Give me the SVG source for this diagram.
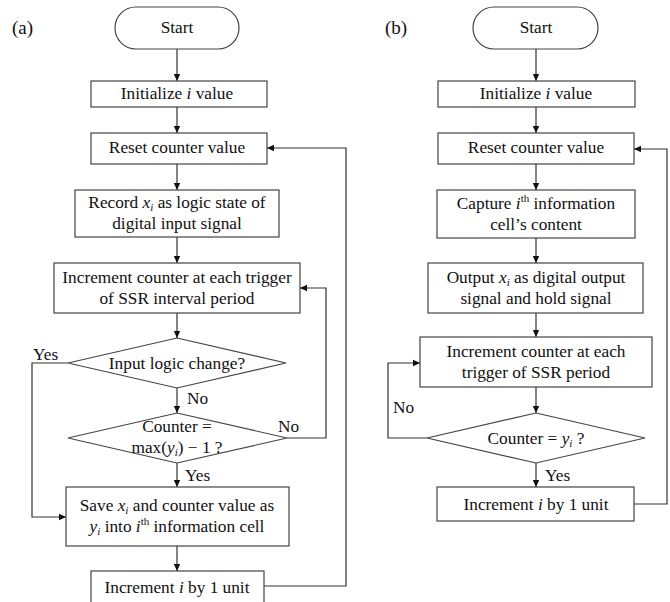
<svg xmlns="http://www.w3.org/2000/svg" width="670" height="602" viewBox="0 0 670 602">
<defs>
<marker id="ah" markerWidth="8" markerHeight="8" refX="7" refY="4" orient="auto" markerUnits="userSpaceOnUse">
<path d="M0,0.8 L7,4 L0,7.2 Z" fill="#111"/>
</marker>
<style>
.b{fill:#fff;stroke:#444;stroke-width:1.2}
text{font-family:'Liberation Serif','Times New Roman',Times,serif;font-size:17.3px;fill:#111}
.t{text-anchor:middle}
.c{fill:none;stroke:#333;stroke-width:1.2}
.ca{fill:none;stroke:#333;stroke-width:1.2;marker-end:url(#ah)}
.i{font-style:italic}
</style>
</defs>
<rect width="670" height="602" fill="#fff"/>
<text x="12" y="34" style="font-size:19px">(a)</text>
<text x="385" y="34" style="font-size:19px">(b)</text>

<g id="connectors">
<path class="ca" d="M177,49 V81"/>
<path class="ca" d="M177,107 V133"/>
<path class="ca" d="M177,164 V190"/>
<path class="ca" d="M177,237 V263"/>
<path class="ca" d="M177,313 V338"/>
<path class="ca" d="M177,388 V413"/>
<path class="ca" d="M177,463 V487"/>
<path class="ca" d="M177,546 V571"/>
<path class="ca" d="M68,363 H32 V517 H66"/>
<path class="ca" d="M287,438 H326 V288 H300"/>
<path class="ca" d="M264,586 H346 V148 H267"/>
<path class="ca" d="M536,49 V81"/>
<path class="ca" d="M536,107 V133"/>
<path class="ca" d="M536,164 V190"/>
<path class="ca" d="M536,238 V263"/>
<path class="ca" d="M536,313 V337"/>
<path class="ca" d="M536,387 V413"/>
<path class="ca" d="M536,463 V487"/>
<path class="ca" d="M427,438 H388 V363 H420"/>
<path class="ca" d="M634,504 H667 V149 H634"/>
<text x="33" y="360">Yes</text>
<text x="187" y="404">No</text>
<text x="278" y="432">No</text>
<text x="185" y="481">Yes</text>
<text x="393" y="413">No</text>
<text x="545" y="481">Yes</text>
</g>

<g id="a_start"><rect class="b" x="115" y="7" width="124" height="42" rx="21"/><text class="t" x="177" y="33">Start</text></g>
<g id="a_init"><rect class="b" x="91" y="81" width="176" height="26"/><text class="t" x="177" y="99">Initialize <tspan class="i">i</tspan> value</text></g>
<g id="a_reset"><rect class="b" x="91" y="133" width="176" height="31"/><text class="t" x="177" y="153">Reset counter value</text></g>
<g id="a_record"><rect class="b" x="75" y="190" width="204" height="47"/><text class="t" x="177" y="208">Record <tspan class="i">x</tspan><tspan class="i" font-size="11" dy="3">i</tspan><tspan dy="-3"> as logic state of</tspan></text><text class="t" x="177" y="229">digital input signal</text></g>
<g id="a_inc"><rect class="b" x="54" y="263" width="246" height="50"/><text class="t" x="177" y="283">Increment counter at each trigger</text><text class="t" x="177" y="304">of SSR interval period</text></g>
<g id="a_d1"><polygon class="b" points="177,338 286,363 177,388 68,363"/><text class="t" x="177" y="369">Input logic change?</text></g>
<g id="a_d2"><polygon class="b" points="177,413 287,438 177,463 68,438"/><text class="t" x="177" y="432">Counter =</text><text class="t" x="177" y="453">max(<tspan class="i">y</tspan><tspan class="i" style="font-size:11px" dy="3">i</tspan><tspan dy="-3">) − 1 ?</tspan></text></g>
<g id="a_save"><rect class="b" x="66" y="487" width="223" height="59"/><text class="t" x="177" y="511">Save <tspan class="i">x</tspan><tspan class="i" style="font-size:11px" dy="3">i</tspan><tspan dy="-3"> and counter value as</tspan></text><text class="t" x="177" y="532"><tspan class="i">y</tspan><tspan class="i" style="font-size:11px" dy="3">i</tspan><tspan dy="-3"> into </tspan><tspan class="i">i</tspan><tspan style="font-size:11px" dy="-7">th</tspan><tspan dy="7"> information cell</tspan></text></g>
<g id="a_inci"><rect class="b" x="91" y="571" width="173" height="40"/><text class="t" x="177" y="593">Increment <tspan class="i">i</tspan> by 1 unit</text></g>

<g id="b_start"><rect class="b" x="473" y="7" width="125" height="42" rx="21"/><text class="t" x="536" y="33">Start</text></g>
<g id="b_init"><rect class="b" x="438" y="81" width="197" height="26"/><text class="t" x="536" y="99">Initialize <tspan class="i">i</tspan> value</text></g>
<g id="b_reset"><rect class="b" x="438" y="133" width="196" height="31"/><text class="t" x="536" y="153">Reset counter value</text></g>
<g id="b_capture"><rect class="b" x="437" y="190" width="198" height="48"/><text class="t" x="536" y="209">Capture <tspan class="i">i</tspan><tspan style="font-size:11px" dy="-7">th</tspan><tspan dy="7"> information</tspan></text><text class="t" x="536" y="230">cell’s content</text></g>
<g id="b_output"><rect class="b" x="428" y="263" width="215" height="50"/><text class="t" x="536" y="283">Output <tspan class="i">x</tspan><tspan class="i" style="font-size:11px" dy="3">i</tspan><tspan dy="-3"> as digital output</tspan></text><text class="t" x="536" y="304">signal and hold signal</text></g>
<g id="b_inc"><rect class="b" x="420" y="337" width="232" height="50"/><text class="t" x="536" y="357">Increment counter at each</text><text class="t" x="536" y="378">trigger of SSR period</text></g>
<g id="b_d"><polygon class="b" points="536,413 645,438 536,463 427,438"/><text class="t" x="536" y="444">Counter = <tspan class="i">y</tspan><tspan class="i" style="font-size:11px" dy="3">i</tspan><tspan dy="-3"> ?</tspan></text></g>
<g id="b_inci"><rect class="b" x="437" y="487" width="197" height="34"/><text class="t" x="536" y="510">Increment <tspan class="i">i</tspan> by 1 unit</text></g>
</svg>
